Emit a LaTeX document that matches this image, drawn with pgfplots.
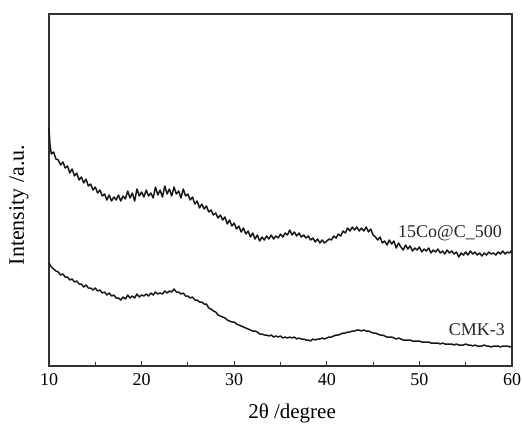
\documentclass[border=0pt]{standalone}
\usepackage{pgfplots}
\pgfplotsset{compat=1.18}
\usepackage{fontspec}
\setmainfont{Liberation Serif}
\usetikzlibrary{calc}

% 15Co@C_500
\pgfplotstableread{
x y
10.00 238
10.10 222
10.25 212
10.50 214
10.75 207
11.00 206
11.25 201
11.50 204
11.75 198
12.00 200
12.25 193
12.50 197
12.75 190
13.00 193
13.25 186
13.50 189
13.75 183
14.00 187
14.25 180
14.50 182
14.75 176
15.00 179
15.25 173
15.50 176
15.75 170
16.00 172
16.25 166
16.50 171
16.75 165
17.00 169
17.25 166
17.50 171
17.75 165
18.00 170
18.25 167
18.50 175
18.75 168
19.00 173
19.25 165
19.50 177
19.75 170
20.00 174
20.25 169
20.50 176
20.75 170
21.00 173
21.25 168
21.50 179
21.75 171
22.00 176
22.25 169
22.50 180
22.75 172
23.00 177
23.25 170
23.50 179
23.75 172
24.00 175
24.25 168
24.50 177
24.75 170
25.00 172
25.25 166
25.50 169
25.75 162
26.00 165
26.25 158
26.50 162
26.75 157
27.00 160
27.25 154
27.50 156
27.75 151
28.00 153
28.25 148
28.50 151
28.75 146
29.00 149
29.25 142
29.50 146
29.75 140
30.00 143
30.25 137
30.50 140
30.75 134
31.00 138
31.25 132
31.50 135
31.75 129
32.00 133
32.25 127
32.50 131
32.75 125
33.00 129
33.25 126
33.50 130
33.75 127
34.00 131
34.25 127
34.50 130
34.75 128
35.00 132
35.25 129
35.50 133
35.75 131
36.00 136
36.25 131
36.50 134
36.75 130
37.00 133
37.25 129
37.50 131
37.75 128
38.00 130
38.25 126
38.50 128
38.75 124
39.00 127
39.25 123
39.50 126
39.75 123
40.00 125
40.25 127
40.50 126
40.75 130
41.00 128
41.25 132
41.50 130
41.75 135
42.00 133
42.25 138
42.50 135
42.75 139
43.00 136
43.25 139
43.50 135
43.75 138
44.00 135
44.25 139
44.50 134
44.75 137
45.00 131
45.25 129
45.50 126
45.75 129
46.00 123
46.25 125
46.50 121
46.75 126
47.00 122
47.25 125
47.50 118
47.75 123
48.00 119
48.25 116
48.50 121
48.75 117
49.00 120
49.25 115
49.50 118
49.75 116
50.00 119
50.25 114
50.50 117
50.75 115
51.00 118
51.25 113
51.50 116
51.75 114
52.00 117
52.25 113
52.50 115
52.75 112
53.00 116
53.25 113
53.50 115
53.75 112
54.00 114
54.25 109
54.50 113
54.75 111
55.00 114
55.25 111
55.50 115
55.75 112
56.00 114
56.25 111
56.50 113
56.75 110
57.00 113
57.25 111
57.50 114
57.75 112
58.00 113
58.25 111
58.50 114
58.75 112
59.00 115
59.25 112
59.50 114
59.75 113
60.00 116
}\cocdata

% CMK-3
\pgfplotstableread{
x y
10.00 103
10.25 99
10.50 97
10.75 95
11.00 94
11.25 91
11.50 92
11.75 89
12.00 89
12.25 86
12.50 87
12.75 84
13.00 85
13.25 82
13.50 82
13.75 79
14.00 81
14.25 78
14.50 78
14.75 76
15.00 78
15.25 75
15.50 76
15.75 73
16.00 74
16.25 71
16.50 73
16.75 70
17.00 71
17.25 68
17.50 68
17.75 66
18.00 69
18.25 67
18.50 71
18.75 68
19.00 70
19.25 68
19.50 72
19.75 69
20.00 71
20.25 70
20.50 72
20.75 70
21.00 73
21.25 71
21.50 74
21.75 72
22.00 73
22.25 72
22.50 75
22.75 73
23.00 75
23.25 74
23.50 77
23.75 74
24.00 74
24.25 72
24.50 73
24.75 70
25.00 70
25.25 68
25.50 69
25.75 66
26.00 66
26.25 64
26.50 64
26.75 62
27.00 62
27.25 58
27.50 57
27.75 55
28.00 54
28.25 51
28.50 50
28.75 49
29.00 48
29.25 46
29.50 45
29.75 44
30.00 44
30.25 42
30.50 41
30.75 40
31.00 39
31.25 38
31.50 37
31.75 36
32.00 35
32.25 35
32.50 34
32.75 32
33.00 32
33.25 31
33.50 31
33.75 30
34.00 31
34.25 29
34.50 30
34.75 29
35.00 30
35.25 28
35.50 29
35.75 28
36.00 29
36.25 28
36.50 29
36.75 27
37.00 28
37.25 27
37.50 27
37.75 26
38.00 26
38.25 25
38.50 27
38.75 26
39.00 27
39.25 27
39.50 28
39.75 27
40.00 28
40.25 29
40.50 29
40.75 30
41.00 31
41.25 31
41.50 32
41.75 33
42.00 33
42.25 34
42.50 34
42.75 35
43.00 35
43.25 36
43.50 36
43.75 35
44.00 36
44.25 35
44.50 35
44.75 34
45.00 33
45.25 33
45.50 32
45.75 31
46.00 31
46.25 30
46.50 29
46.75 29
47.00 29
47.25 28
47.50 27
47.75 28
48.00 27
48.25 26
48.50 26
48.75 26
49.00 26
49.25 25
49.50 25
49.75 25
50.00 25
50.25 24
50.50 24
50.75 24
51.00 24
51.25 23
51.50 23
51.75 23
52.00 23
52.25 22
52.50 23
52.75 22
53.00 22
53.25 22
53.50 22
53.75 21
54.00 22
54.25 21
54.50 21
54.75 21
55.00 22
55.25 21
55.50 21
55.75 20
56.00 21
56.25 20
56.50 20
56.75 20
57.00 21
57.25 20
57.50 20
57.75 19
58.00 20
58.25 20
58.50 20
58.75 19
59.00 20
59.25 20
59.50 20
59.75 19
60.00 20
}\cmkdata

\begin{document}
\begin{tikzpicture}
\begin{axis}[
  scale only axis,
  width=463bp, height=352bp,
  xmin=10, xmax=60, ymin=0, ymax=352,
  xtick={10,20,...,60},
  minor x tick num=1,
  ytick=\empty,
  tick align=inside,
  xtick pos=left,
  major tick length=5bp,
  minor tick length=4bp,
  axis line style={line width=1.3bp, black!80},
  every tick/.style={line width=1bp, black!80},
  tick label style={font=\fontsize{18bp}{20bp}\selectfont},
  xticklabel style={yshift=-4bp},
  /pgf/number format/assume math mode=true,
  xlabel={2θ /degree},
  ylabel={Intensity /a.u.},
  xlabel style={font=\fontsize{21bp}{24bp}\selectfont, at={(axis description cs:0.525,0)}, anchor=center, yshift=-47bp},
  ylabel style={font=\fontsize{22bp}{24bp}\selectfont, at={(axis description cs:0,0.457)}, anchor=center, yshift=30bp},
  clip=false,
]
\addplot[black!90, line width=1.5bp, line join=round] table {\cocdata};
\addplot[black!90, line width=1.5bp, line join=round] table {\cmkdata};
\node[font=\fontsize{18bp}{20bp}\selectfont, black!85] at (axis cs:53.3,133) {15Co@C\_500};
\node[font=\fontsize{18bp}{20bp}\selectfont, black!85] at (axis cs:56.2,36) {CMK-3};
\end{axis}
\pgfresetboundingbox
\path ($(current axis.south west)+(-49bp,-57bp)$) rectangle ($(current axis.north east)+(10bp,14bp)$);
\end{tikzpicture}
\end{document}
